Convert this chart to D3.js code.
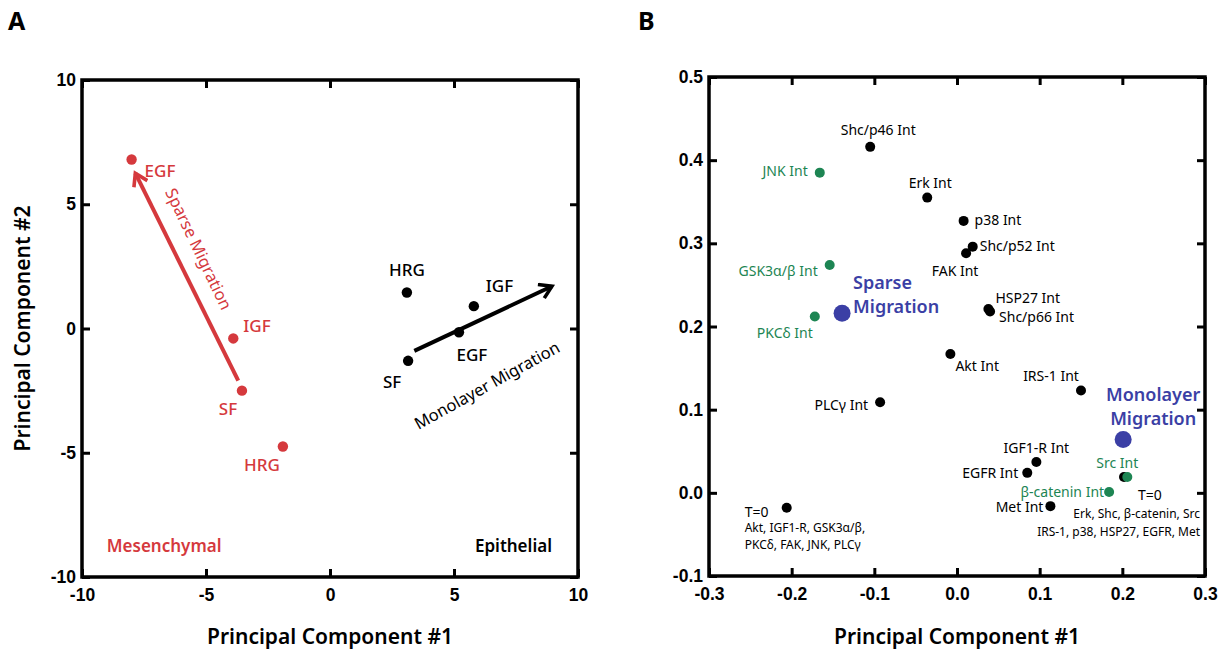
<!DOCTYPE html>
<html lang="en">
<head>
    <meta charset="UTF-8">
    <title>Principal component analysis</title>
    <style>
        body, html { margin: 0; background: #fff; }
        svg text { font-family: "Noto Sans", Arial, sans-serif; }
        .tick text { font-family: "Liberation Sans", Arial, sans-serif; font-weight: bold; font-size: 17.5px; }
    </style>
    <script src="https://d3js.org/d3.v7.min.js"></script>
</head>
<body>
<div id="chart"></div>
<script>
    // ---- data ----
    const RED = "#d5393d", GREEN = "#1d8553", BLUE = "#3b3fa5";

    // panel A: conditions projected on PC1/PC2
    const condNames  = ["EGF", "IGF", "SF", "HRG", "HRG", "IGF", "EGF", "SF"];
    const condGroup  = ["mes", "mes", "mes", "mes", "epi", "epi", "epi", "epi"];
    const condPC1    = [-8.0, -3.9, -3.55, -1.9, 3.1, 5.8, 5.2, 3.15];
    const condPC2    = [6.8, -0.4, -2.5, -4.75, 1.45, 0.9, -0.15, -1.3];
    const aTicks     = [-10, -5, 0, 5, 10];

    // panel B: signal loadings
    const sigNames = ["Shc/p46 Int", "JNK Int", "Erk Int", "p38 Int", "Shc/p52 Int", "FAK Int",
        "GSK3\u03b1/\u03b2 Int", "HSP27 Int", "Shc/p66 Int", "PKC\u03b4 Int", "Akt Int", "IRS-1 Int",
        "PLC\u03b3 Int", "IGF1-R Int", "EGFR Int", "Met Int", "T=0", "T=0", "Src Int", "\u03b2-catenin Int",
        "Sparse Migration", "Monolayer Migration"];
    const sigKind = ["k", "g", "k", "k", "k", "k", "g", "k", "k", "g", "k", "k",
        "k", "k", "k", "k", "k", "k", "g", "g", "b", "b"];
    const sigPC1 = [-0.105, -0.166, -0.036, 0.008, 0.019, 0.011, -0.154, 0.038, 0.040, -0.172, -0.008, 0.150,
        -0.093, 0.096, 0.085, 0.113, -0.206, 0.202, 0.206, 0.184, -0.139, 0.201];
    const sigPC2 = [0.416, 0.385, 0.355, 0.327, 0.296, 0.288, 0.274, 0.221, 0.218, 0.212, 0.167, 0.123,
        0.109, 0.037, 0.024, -0.016, -0.018, 0.019, 0.019, 0.001, 0.216, 0.064];
    const bxTicks = [-0.3, -0.2, -0.1, 0.0, 0.1, 0.2, 0.3];
    const byTicks = [-0.1, 0.0, 0.1, 0.2, 0.3, 0.4, 0.5];
    const t0Left  = ["Akt, IGF1-R, GSK3\u03b1/\u03b2,", "PKC\u03b4, FAK, JNK, PLC\u03b3"];
    const t0Right = ["Erk, Shc, \u03b2-catenin, Src", "IRS-1, p38, HSP27, EGFR, Met"];

    // ---- layout ----
    const W = 1222, H = 651;
    const svg = d3.select("#chart").append("svg").attr("width", W).attr("height", H);
    svg.append("defs").selectAll("marker")
        .data([["headRed", RED], ["headBlack", "#000"]])
        .enter().append("marker")
        .attr("id", d => d[0])
        .attr("viewBox", "0 0 12 12").attr("refX", 9).attr("refY", 6)
        .attr("markerWidth", 18).attr("markerHeight", 18)
        .attr("markerUnits", "userSpaceOnUse").attr("orient", "auto")
        .append("path").attr("d", "M1,1 L9,6 L1,11")
        .attr("fill", "none").attr("stroke", d => d[1]).attr("stroke-width", 2.4);

    function frame(x, y, xt, yt, xfmt, yfmt) {
        const g = svg.append("g");
        const [x0, x1] = x.range(), [y0, y1] = y.range();
        const axes = [
            [d3.axisBottom(x).tickValues(xt).tickFormat(xfmt), `translate(0,${y0})`, true],
            [d3.axisTop(x).tickValues(xt).tickFormat(""), `translate(0,${y1})`, false],
            [d3.axisLeft(y).tickValues(yt).tickFormat(yfmt), `translate(${x0},0)`, false],
            [d3.axisRight(y).tickValues(yt).tickFormat(""), `translate(${x1},0)`, false]
        ];
        axes.forEach(([ax, tr, bottom]) => {
            const a = g.append("g").attr("transform", tr)
                .call(ax.tickSizeInner(-8).tickSizeOuter(0).tickPadding(6));
            a.select(".domain").remove();
            a.selectAll("line").attr("stroke-width", 3);
            if (bottom) a.selectAll("text").attr("dy", "1.05em");
        });
        g.selectAll(".tick text").attr("fill", "#000");
        g.append("rect").attr("x", x0).attr("y", y1)
            .attr("width", x1 - x0).attr("height", y0 - y1)
            .attr("fill", "none").attr("stroke", "#000").attr("stroke-width", 3.5);
        return g;
    }

    // ---- panel A ----
    const xA = d3.scaleLinear().domain([-10, 10]).range([82, 578]);
    const yA = d3.scaleLinear().domain([-10, 10]).range([577, 80]);
    frame(xA, yA, aTicks, aTicks, d => d, d => d);

    // arrows (data coords)
    const arrowsA = [
        {from: [-3.7, -2.1], to: [-7.85, 6.25], color: RED, m: "headRed"},
        {from: [3.4, -0.9], to: [8.95, 1.7], color: "#000", m: "headBlack"}
    ];
    svg.append("g").selectAll("line").data(arrowsA).enter().append("line")
        .attr("x1", d => xA(d.from[0])).attr("y1", d => yA(d.from[1]))
        .attr("x2", d => xA(d.to[0])).attr("y2", d => yA(d.to[1]))
        .attr("stroke", d => d.color).attr("stroke-width", 4)
        .attr("marker-end", d => `url(#${d.m})`);

    const labelOffA = [[13, 17, "start"], [10, -6, "start"], [-14, 24, "middle"], [-21, 24, "middle"],
        [0, -16, "middle"], [12, -14, "start"], [13, 29, "middle"], [-16, 27, "middle"]];
    const ptsA = condNames.map((n, i) => ({n, g: condGroup[i], x: condPC1[i], y: condPC2[i], off: labelOffA[i]}));
    const gp = svg.append("g");
    gp.selectAll("circle").data(ptsA).enter().append("circle")
        .attr("cx", d => xA(d.x)).attr("cy", d => yA(d.y)).attr("r", 5.2)
        .attr("fill", d => d.g === "mes" ? RED : "#000");
    gp.selectAll("text").data(ptsA).enter().append("text")
        .attr("x", d => xA(d.x) + d.off[0]).attr("y", d => yA(d.y) + d.off[1])
        .attr("text-anchor", d => d.off[2]).attr("font-size", 17).attr("font-weight", 500)
        .attr("fill", d => d.g === "mes" ? RED : "#000").text(d => d.n);

    svg.append("text")
        .attr("transform", `translate(${xA(-5.3)},${yA(3.2)}) rotate(64.5)`)
        .attr("text-anchor", "middle").attr("dy", "0.35em").attr("font-size", 16.5)
        .attr("fill", RED).text("Sparse Migration");
    svg.append("text")
        .attr("transform", `translate(${xA(6.33)},${yA(-2.29)}) rotate(-29)`)
        .attr("text-anchor", "middle").attr("dy", "0.35em").attr("font-size", 16.5)
        .attr("fill", "#000").text("Monolayer Migration");
    svg.append("text").attr("x", xA(-9.0)).attr("y", yA(-9.0)).attr("font-size", 17).attr("font-weight", 600)
        .attr("fill", RED).text("Mesenchymal");
    svg.append("text").attr("x", xA(8.95)).attr("y", yA(-9.0)).attr("font-size", 17).attr("font-weight", 600)
        .attr("text-anchor", "end").attr("fill", "#000").text("Epithelial");

    // ---- panel B ----
    const xB = d3.scaleLinear().domain([-0.3, 0.3]).range([709, 1205]);
    const yB = d3.scaleLinear().domain([-0.1, 0.5]).range([576, 77]);
    frame(xB, yB, bxTicks, byTicks, d => d.toFixed(1), d => d.toFixed(1));

    const labelOffB = [[8, -12, "middle"], [-12, 3, "end"], [3, -10, "middle"], [11, 4, "start"],
        [7, 4, "start"], [-11, 23, "middle"], [-12, 11, "end"], [7, -6, "start"], [9, 10, "start"],
        [-30, 21, "middle"], [5, 17, "start"], [-30, -10, "middle"], [-12, 8, "end"], [0, -9, "middle"],
        [-9, 5, "end"], [-7, 6, "end"], [-42, 9, "start"], [26, 23, "middle"], [-10, -9, "middle"],
        [-5, 5, "end"], [11, -24, "start"], [30, -39, "middle"]];
    const colorOf = {k: "#000", g: GREEN, b: BLUE};
    const ptsB = sigNames.map((n, i) => ({n, k: sigKind[i], x: sigPC1[i], y: sigPC2[i], off: labelOffB[i]}));
    const gb = svg.append("g");
    gb.selectAll("circle").data(ptsB).enter().append("circle")
        .attr("cx", d => xB(d.x)).attr("cy", d => yB(d.y)).attr("r", d => d.k === "b" ? 8.5 : 5)
        .attr("fill", d => colorOf[d.k]);
    const tb = gb.selectAll("text").data(ptsB).enter().append("text")
        .attr("x", d => xB(d.x) + d.off[0]).attr("y", d => yB(d.y) + d.off[1])
        .attr("text-anchor", d => d.off[2])
        .attr("font-size", d => d.k === "b" ? 18 : 14)
        .attr("font-weight", d => d.k === "b" ? 600 : 400)
        .attr("fill", d => colorOf[d.k]);
    tb.filter(d => d.k !== "b").text(d => d.n);
    tb.filter(d => d.k === "b").each(function (d) {
        const words = d.n.split(" ");
        d3.select(this).selectAll("tspan").data(words).enter().append("tspan")
            .attr("x", xB(d.x) + d.off[0]).attr("dy", (w, j) => j ? 24 : 0).text(w => w);
    });

    // T=0 member lists
    const t0L = ptsB[16], t0R = ptsB[17];
    svg.append("g").selectAll("text").data(t0Left).enter().append("text")
        .attr("x", xB(t0L.x) - 42).attr("y", (d, i) => yB(t0L.y) + 24 + i * 17)
        .attr("font-size", 12).attr("fill", "#000").text(d => d);
    svg.append("g").selectAll("text").data(t0Right).enter().append("text")
        .attr("x", xB(t0R.x) + 76).attr("y", (d, i) => yB(t0R.y) + 41 + i * 18)
        .attr("text-anchor", "end").attr("font-size", 12).attr("fill", "#000").text(d => d);

    // ---- titles ----
    [xA, xB].forEach(x => {
        const cx = (x.range()[0] + x.range()[1]) / 2;
        svg.append("text").attr("x", cx).attr("y", 644).attr("text-anchor", "middle")
            .attr("font-size", 21).attr("font-weight", 600).text("Principal Component #1");
    });
    svg.append("text").attr("transform", `translate(30,${(yA.range()[0] + yA.range()[1]) / 2}) rotate(-90)`)
        .attr("text-anchor", "middle").attr("font-size", 21).attr("font-weight", 600).text("Principal Component #2");
    svg.append("text").attr("x", 8).attr("y", 30).attr("font-family", "Liberation Sans, Arial")
        .attr("font-size", 25).attr("font-weight", "bold").text("A");
    svg.append("text").attr("x", 638).attr("y", 30).attr("font-family", "Liberation Sans, Arial")
        .attr("font-size", 25).attr("font-weight", "bold").text("B");
</script>
</body>
</html>
